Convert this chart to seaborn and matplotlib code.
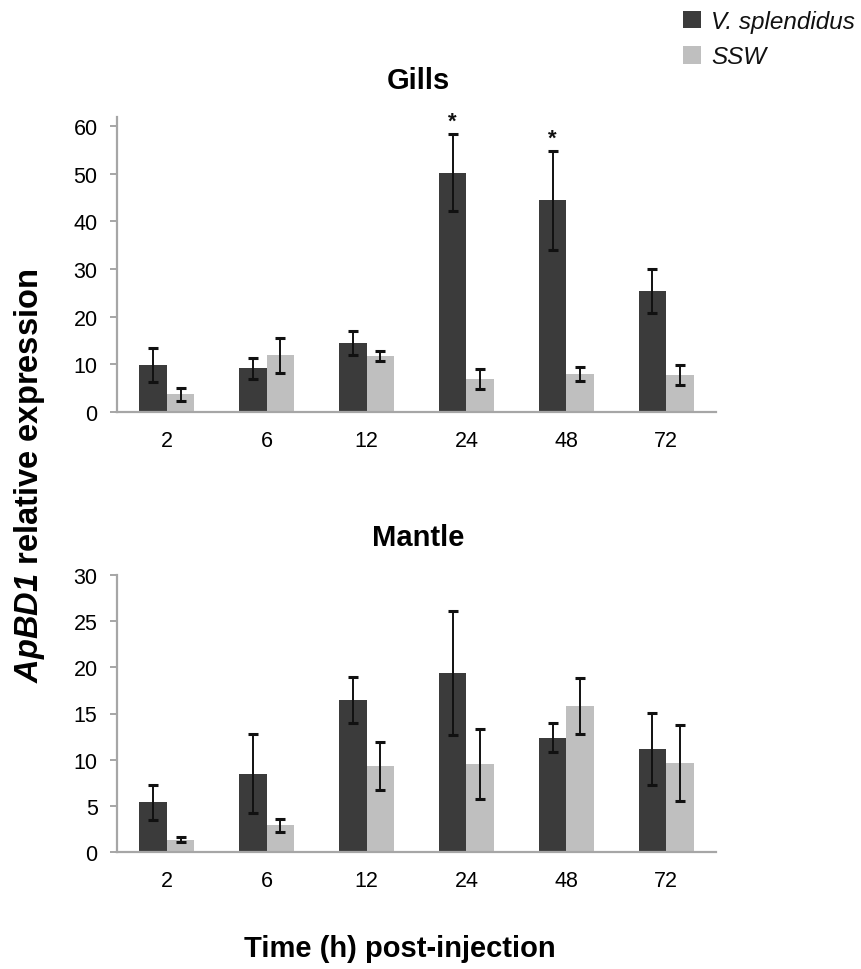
import matplotlib
matplotlib.use("Agg")
import matplotlib.pyplot as plt
import seaborn as sns
import pandas as pd
from matplotlib.patches import Patch
from matplotlib.container import BarContainer

# ---------------- data ----------------
times = ["2", "6", "12", "24", "48", "72"]
groups = ["V. splendidus", "SSW"]

gills_vs = [9.8, 9.2, 14.5, 50.2, 44.4, 25.3]
gills_vs_err = [3.6, 2.2, 2.5, 8.1, 10.4, 4.6]
gills_ssw = [3.7, 11.9, 11.7, 7.0, 8.0, 7.8]
gills_ssw_err = [1.4, 3.7, 1.0, 2.1, 1.5, 2.1]
gills_sig = ["", "", "", "*", "*", ""]

mantle_vs = [5.4, 8.5, 16.5, 19.4, 12.4, 11.2]
mantle_vs_err = [1.9, 4.3, 2.5, 6.7, 1.6, 3.9]
mantle_ssw = [1.35, 2.9, 9.3, 9.5, 15.8, 9.65]
mantle_ssw_err = [0.25, 0.7, 2.6, 3.8, 3.0, 4.1]

gills_ticks = [0, 10, 20, 30, 40, 50, 60]
mantle_ticks = [0, 5, 10, 15, 20, 25, 30]

dark = "#3b3b3b"
light = "#bfbfbf"
palette = {groups[0]: dark, groups[1]: light}

sns.set_style("white")
plt.rcParams["font.family"] = ["Liberation Sans", "DejaVu Sans"]
plt.rcParams["text.color"] = "black"
plt.rcParams["mathtext.fontset"] = "custom"
plt.rcParams["mathtext.rm"] = "Liberation Sans:bold"
plt.rcParams["mathtext.bf"] = "Liberation Sans:bold"
plt.rcParams["mathtext.it"] = "Liberation Sans:italic:bold"
plt.rcParams["mathtext.bfit"] = "Liberation Sans:italic:bold"

W, H = 862, 970
fig = plt.figure(figsize=(W / 100, H / 100), dpi=100)


def px_axes(left, top, right, bottom):
    return fig.add_axes([left / W, 1 - bottom / H, (right - left) / W, (bottom - top) / H])


def panel(ax, vs, vs_err, ssw, ssw_err, ticks, ymax, sig=None):
    df = pd.DataFrame({
        "time": times * 2,
        "group": [groups[0]] * len(times) + [groups[1]] * len(times),
        "value": list(vs) + list(ssw),
    })
    sns.barplot(data=df, x="time", y="value", hue="group", order=times,
                hue_order=groups, palette=palette, width=0.55, gap=0,
                errorbar=None, ax=ax, legend=False, saturation=1,
                linewidth=0)
    errs = [vs_err, ssw_err]
    vals = [vs, ssw]
    bars = [c for c in ax.containers if isinstance(c, BarContainer)]
    for ci, cont in enumerate(bars):
        xs = [p.get_x() + p.get_width() / 2 for p in cont.patches]
        ax.errorbar(xs, vals[ci], yerr=errs[ci], fmt="none", ecolor="#111111",
                    elinewidth=1.4, capsize=3.6, capthick=2.2, zorder=5)
        if sig is not None and ci == 0:
            for x, v, e, s in zip(xs, vals[ci], errs[ci], sig):
                if s:
                    ax.annotate(s, (x, v + e), xytext=(0, 1.5), textcoords="offset points",
                                ha="center", va="bottom", fontsize=16, fontweight="bold",
                                color="#111111")
    ax.set_ylim(0, ymax)
    ax.set_xlim(-0.5, len(times) - 0.5)
    ax.set_yticks(ticks)
    ax.set_xlabel("")
    ax.set_ylabel("")
    for side in ["top", "right"]:
        ax.spines[side].set_visible(False)
    for side in ["left", "bottom"]:
        ax.spines[side].set_color("#a6a6a6")
        ax.spines[side].set_linewidth(1.6)
    ax.tick_params(axis="x", length=0, pad=13, labelsize=15.5, colors="black")
    ax.tick_params(axis="y", direction="out", length=5, width=1.4, color="#a6a6a6",
                   pad=9, labelsize=15.5, labelcolor="black", left=True)


ax_g = px_axes(117, 117.5, 716, 413)
panel(ax_g, gills_vs, gills_vs_err, gills_ssw, gills_ssw_err, gills_ticks, 62, gills_sig)

ax_m = px_axes(117, 576, 716, 853)
panel(ax_m, mantle_vs, mantle_vs_err, mantle_ssw, mantle_ssw_err, mantle_ticks, 30)

# titles
fig.text(418 / W, 1 - 89 / H, "Gills", ha="center", va="baseline",
         fontsize=21, fontweight="bold", color="black")
fig.text(418 / W, 1 - 546 / H, "Mantle", ha="center", va="baseline",
         fontsize=21, fontweight="bold", color="black")

# shared axis labels
fig.text(400 / W, 1 - 957 / H, "Time (h) post-injection", ha="center", va="baseline",
         fontsize=21, fontweight="bold", color="black")
fig.text(30 / W, 1 - 476 / H, r"$\mathbfit{ApBD1}$ relative expression", ha="center",
         va="center", rotation=90, fontsize=23.5, fontweight="bold", color="black")

# legend
handles = [Patch(facecolor=palette[g], edgecolor="none", label=g) for g in groups]
leg = fig.legend(handles=handles, loc="upper left", bbox_to_anchor=(683 / W, 1 - 11 / H),
                 frameon=False, handlelength=0.75, handleheight=0.75, handletextpad=0.4,
                 labelspacing=0.5, borderpad=0, borderaxespad=0,
                 prop={"style": "italic", "size": 17.5})
for t in leg.get_texts():
    t.set_color("#111111")

fig.savefig("out.png", dpi=100)
